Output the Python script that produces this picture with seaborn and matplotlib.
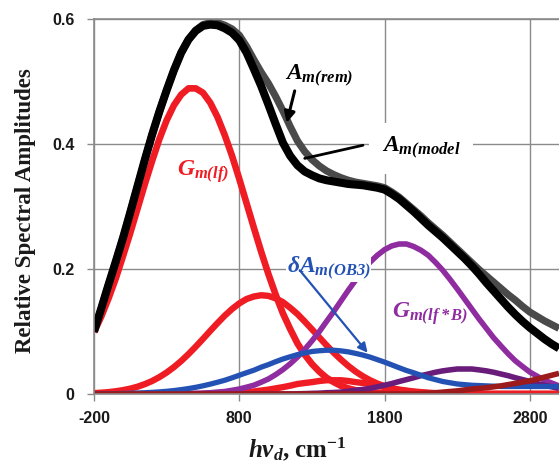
import matplotlib
matplotlib.use("Agg")
import matplotlib.pyplot as plt
import seaborn as sns

# Sampling grid of the photon energy axis (cm^-1)
wavenumber = [
    -200, -150, -100, -50, 0, 50, 100, 150, 200, 250,
    300, 350, 400, 450, 500, 550, 600, 650, 700, 750,
    800, 850, 900, 950, 1000, 1050, 1100, 1150, 1200, 1250,
    1300, 1350, 1400, 1450, 1500, 1550, 1600, 1650, 1700, 1750,
    1800, 1850, 1900, 1950, 2000, 2050, 2100, 2150, 2200, 2250,
    2300, 2350, 2400, 2450, 2500, 2550, 2600, 2650, 2700, 2750,
    2800, 2850, 2900, 2950, 3000]

# Model spectrum A_m(model)
a_model = [
    0.100, 0.137, 0.175, 0.212, 0.250, 0.291, 0.333, 0.375, 0.415, 0.452,
    0.486, 0.518, 0.546, 0.567, 0.581, 0.589, 0.591, 0.590, 0.585, 0.578,
    0.566, 0.546, 0.520, 0.493, 0.463, 0.432, 0.402, 0.381, 0.366, 0.356,
    0.350, 0.345, 0.342, 0.340, 0.338, 0.336, 0.335, 0.334, 0.332, 0.330,
    0.327, 0.320, 0.312, 0.302, 0.292, 0.281, 0.270, 0.260, 0.250, 0.239,
    0.228, 0.217, 0.205, 0.192, 0.178, 0.165, 0.152, 0.139, 0.127, 0.116,
    0.106, 0.097, 0.088, 0.080, 0.073]

# Remaining spectrum A_m(rem)
a_rem = [
    0.100, 0.137, 0.175, 0.212, 0.250, 0.291, 0.333, 0.375, 0.415, 0.452,
    0.486, 0.518, 0.546, 0.567, 0.582, 0.591, 0.594, 0.594, 0.590, 0.584,
    0.574, 0.556, 0.535, 0.515, 0.497, 0.476, 0.453, 0.428, 0.405, 0.388,
    0.375, 0.365, 0.357, 0.351, 0.346, 0.342, 0.339, 0.337, 0.335, 0.333,
    0.330, 0.323, 0.315, 0.305, 0.295, 0.285, 0.274, 0.264, 0.254, 0.243,
    0.232, 0.221, 0.210, 0.199, 0.189, 0.179, 0.169, 0.159, 0.150, 0.140,
    0.131, 0.124, 0.117, 0.111, 0.105]

# Gaussian components of the low-frequency band G_m(lf)
g_lf = [
    0.099, 0.124, 0.153, 0.185, 0.221, 0.258, 0.297, 0.336, 0.373, 0.408,
    0.438, 0.462, 0.479, 0.489, 0.489, 0.482, 0.466, 0.443, 0.414, 0.381,
    0.344, 0.305, 0.266, 0.228, 0.192, 0.159, 0.129, 0.104, 0.081, 0.063,
    0.048, 0.036, 0.026, 0.019, 0.013, 0.009, 0.006, 0.004, 0.003, 0.002,
    0.001, 0.001, 0.0, 0.0, 0.0, 0.0, 0.0, 0.0, 0.0, 0.0,
    0.0, 0.0, 0.0, 0.0, 0.0, 0.0, 0.0, 0.0, 0.0, 0.0,
    0.0, 0.0, 0.0, 0.0, 0.0]
g_lf_2 = [
    0.0014, 0.0021, 0.0030, 0.0044, 0.0062, 0.0086, 0.0117, 0.0158, 0.0208, 0.027,
    0.0344, 0.043, 0.0528, 0.0638, 0.0757, 0.0882, 0.101, 0.1135, 0.1254, 0.136,
    0.145, 0.152, 0.156, 0.158, 0.157, 0.153, 0.147, 0.138, 0.128, 0.116,
    0.1035, 0.0907, 0.078, 0.066, 0.055, 0.0449, 0.036, 0.0284, 0.022, 0.0167,
    0.0125, 0.0092, 0.0066, 0.0047, 0.0033, 0.0022, 0.0015, 0.001, 0.0006, 0.0,
    0.0, 0.0, 0.0, 0.0, 0.0, 0.0, 0.0, 0.0, 0.0, 0.0,
    0.0, 0.0, 0.0, 0.0, 0.0]
g_lf_3 = [
    0.0, 0.0, 0.0, 0.0, 0.0, 0.0, 0.0, 0.0, 0.0, 0.0,
    0.0, 0.0, 0.0, 0.0, 0.0, 0.0, 0.0, 0.0006, 0.001, 0.0014,
    0.002, 0.003, 0.004, 0.0055, 0.007, 0.009, 0.011, 0.0133, 0.016, 0.0176,
    0.019, 0.0208, 0.022, 0.022, 0.022, 0.0208, 0.019, 0.0176, 0.016, 0.0133,
    0.011, 0.009, 0.007, 0.0055, 0.004, 0.003, 0.002, 0.0014, 0.001, 0.0006,
    0.0, 0.0, 0.0, 0.0, 0.0, 0.0, 0.0, 0.0, 0.0, 0.0,
    0.0, 0.0, 0.0, 0.0, 0.0]

# Difference component deltaA_m(OB3)
delta_a_ob3 = [
    0.0, 0.0, 0.0004, 0.0006, 0.0008, 0.0011, 0.0015, 0.002, 0.0026, 0.0034,
    0.0043, 0.0055, 0.007, 0.0087, 0.0107, 0.0131, 0.0158, 0.0188, 0.022, 0.0259,
    0.030, 0.0341, 0.038, 0.0429, 0.047, 0.0517, 0.056, 0.0596, 0.063, 0.0657,
    0.068, 0.0692, 0.070, 0.070, 0.069, 0.0674, 0.065, 0.0623, 0.059, 0.055,
    0.051, 0.0465, 0.042, 0.0376, 0.034, 0.030, 0.026, 0.023, 0.020, 0.018,
    0.016, 0.015, 0.014, 0.0135, 0.013, 0.0125, 0.012, 0.012, 0.012, 0.012,
    0.012, 0.012, 0.012, 0.012, 0.012]

# Gaussian components G_m(lf*B)
g_lfb = [
    0.0, 0.0, 0.0, 0.0, 0.0, 0.0, 0.0, 0.0, 0.0, 0.0,
    0.0, 0.0, 0.0, 0.0007, 0.001, 0.0015, 0.002, 0.0031, 0.004, 0.0059,
    0.008, 0.0109, 0.014, 0.0188, 0.024, 0.031, 0.039, 0.0483, 0.059, 0.0713,
    0.085, 0.0997, 0.116, 0.132, 0.149, 0.166, 0.182, 0.197, 0.211, 0.222,
    0.231, 0.237, 0.240, 0.240, 0.236, 0.230, 0.222, 0.2106, 0.198, 0.1834,
    0.168, 0.152, 0.136, 0.120, 0.105, 0.090, 0.077, 0.0644, 0.053, 0.0438,
    0.035, 0.0284, 0.022, 0.0175, 0.013]
g_lfb_2 = [
    0.0, 0.0, 0.0, 0.0, 0.0, 0.0, 0.0, 0.0, 0.0, 0.0,
    0.0, 0.0, 0.0, 0.0, 0.0, 0.0, 0.0, 0.0, 0.0, 0.0,
    0.0, 0.0, 0.0, 0.0, 0.0, 0.0, 0.0, 0.0, 0.0004, 0.0006,
    0.001, 0.0013, 0.002, 0.0024, 0.003, 0.0044, 0.006, 0.0073, 0.009, 0.0115,
    0.014, 0.0168, 0.020, 0.023, 0.026, 0.0293, 0.032, 0.0348, 0.037, 0.0386,
    0.040, 0.040, 0.040, 0.0386, 0.037, 0.0348, 0.032, 0.0293, 0.026, 0.023,
    0.020, 0.0168, 0.014, 0.0115, 0.009]

# High-frequency tail component
g_tail = [
    0.0, 0.0, 0.0, 0.0, 0.0, 0.0, 0.0, 0.0, 0.0, 0.0,
    0.0, 0.0, 0.0, 0.0, 0.0, 0.0, 0.0, 0.0, 0.0, 0.0,
    0.0, 0.0, 0.0, 0.0, 0.0, 0.0, 0.0, 0.0, 0.0, 0.0,
    0.0, 0.0, 0.0, 0.0, 0.0, 0.0, 0.0, 0.0, 0.0, 0.0,
    0.0, 0.0, 0.0, 0.0, 0.0, 0.0005, 0.001, 0.002, 0.003, 0.004,
    0.005, 0.0065, 0.008, 0.009, 0.010, 0.0115, 0.013, 0.015, 0.017, 0.019,
    0.021, 0.024, 0.027, 0.030, 0.033]

x_ticks = [-200, 800, 1800, 2800]
y_ticks = [0, 0.2, 0.4, 0.6]
y_tick_labels = ["0", "0.2", "0.4", "0.6"]

RED = "#f01c24"
PURPLE = "#8e2ca0"
DARK_PURPLE = "#6a1c7a"
BLUE = "#2452b4"
MAROON = "#9c1a1c"
GREY_CURVE = "#4a4a4a"
GRID = "#8a8a8a"

sns.set_theme(style="white")
plt.rcParams.update({
    "mathtext.fontset": "custom",
    "mathtext.rm": "Liberation Serif:italic:bold",
    "mathtext.it": "Liberation Serif:italic:bold",
    "mathtext.bf": "Liberation Serif:bold",
})

fig = plt.figure(figsize=(5.59, 4.68), dpi=100)
ax = fig.add_axes([94 / 559, 1 - 394 / 468, 1 - 94 / 559, (394 - 19) / 468])

# component curves, back to front
series = [
    (g_lf_3, RED, 4.6),
    (g_lf_2, RED, 4.6),
    (g_lf, RED, 4.8),
    (g_lfb, PURPLE, 4.0),
    (g_lfb_2, DARK_PURPLE, 4.0),
    (delta_a_ob3, BLUE, 3.8),
    (g_tail, MAROON, 4.0),
    (a_rem, GREY_CURVE, 5.2),
    (a_model, "black", 5.8),
]
for values, color, lw in series:
    sns.lineplot(x=wavenumber, y=values, ax=ax, color=color, linewidth=lw,
                 solid_joinstyle="round", solid_capstyle="butt")

ax.set_xlim(-200, 3000)
ax.set_ylim(0, 0.6)
ax.set_xticks(x_ticks)
ax.set_xticklabels([str(v) for v in x_ticks])
ax.set_yticks(y_ticks)
ax.set_yticklabels(y_tick_labels)

ax.grid(True, color=GRID, linewidth=1.0)
ax.set_axisbelow(True)
for side in ["left", "bottom", "top"]:
    ax.spines[side].set_visible(True)
    ax.spines[side].set_color(GRID)
    ax.spines[side].set_linewidth(1.2)
ax.spines["right"].set_visible(False)

ax.tick_params(axis="both", direction="out", length=5, width=1.0,
               color=GRID, bottom=True, left=True)
ax.tick_params(axis="x", pad=7)
ax.tick_params(axis="y", pad=9)
for lab in ax.get_xticklabels() + ax.get_yticklabels():
    lab.set_fontfamily("Liberation Sans")
    lab.set_fontweight("bold")
    lab.set_fontsize(11.5)
    lab.set_color("#1a1a1a")

ax.set_ylabel("Relative Spectral Amplitudes", fontfamily="Liberation Serif",
              fontweight="bold", fontsize=16.5, color="#1a1a1a")
ax.yaxis.set_label_coords(-0.125, 0.49)
ax.set_xlabel(r"$h\nu_d$, cm$^{\mathbf{-1}}$", fontfamily="Liberation Serif",
              fontweight="bold", fontsize=18, color="#1a1a1a")
ax.xaxis.set_label_coords(0.437, -0.11)

# curve labels
lab_kw = dict(fontsize=17, ha="left", va="baseline", zorder=6)
ax.text(1113, 0.502, r"$A_{m(rem)}$", color="black", **lab_kw)
ax.annotate("", xy=(1126, 0.434), xytext=(1181, 0.485),
            arrowprops=dict(arrowstyle="-|>", color="black", lw=2.2,
                            mutation_scale=16, shrinkA=0, shrinkB=0),
            zorder=6)
ax.text(1779, 0.387, r"$A_{m(model}$", color="black",
        bbox=dict(facecolor="white", edgecolor="none", pad=9), **lab_kw)
ax.annotate("", xy=(1250, 0.377), xytext=(1651, 0.398),
            arrowprops=dict(arrowstyle="-", color="black", lw=2.0,
                            shrinkA=0, shrinkB=0),
            zorder=6)
ax.text(370, 0.350, r"$G_{m(lf)}$", color=RED, **lab_kw)
ax.text(1126, 0.194, r"$\delta A_{m(OB3)}$", color=BLUE,
        bbox=dict(facecolor="white", edgecolor="none", pad=0.5), **lab_kw)
ax.annotate("", xy=(1683, 0.066), xytext=(1216, 0.198),
            arrowprops=dict(arrowstyle="-|>", color=BLUE, lw=1.6,
                            mutation_scale=14, shrinkA=0, shrinkB=0),
            zorder=6)
ax.text(1848, 0.122, r"$G_{m(lf*B)}$", color=PURPLE, **lab_kw)

fig.savefig("out.png", dpi=100)
